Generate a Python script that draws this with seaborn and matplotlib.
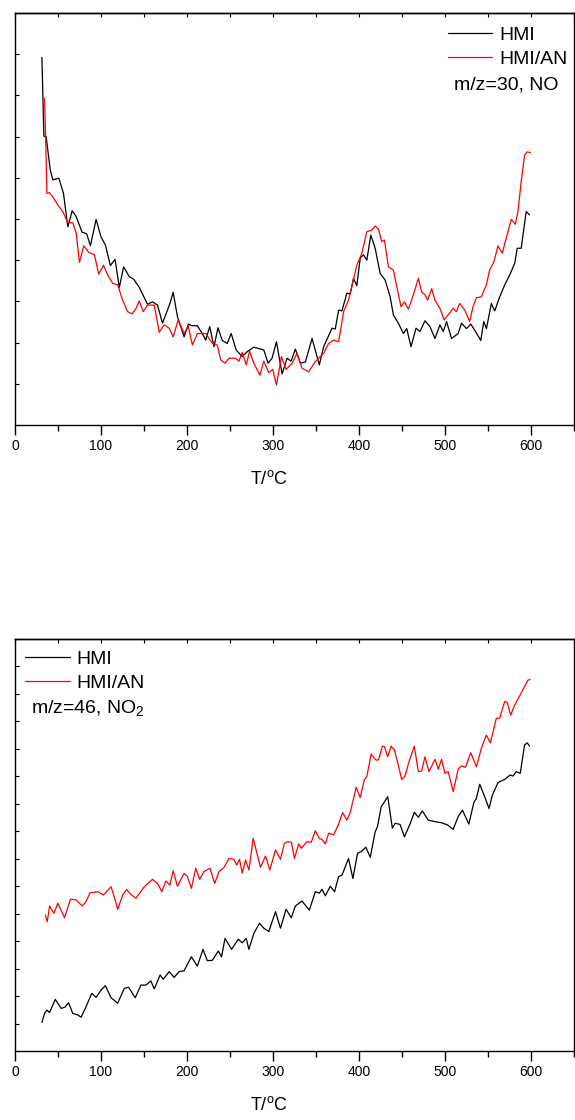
import matplotlib
matplotlib.use("Agg")
import matplotlib.pyplot as plt
import seaborn as sns
import pandas as pd
from matplotlib.ticker import MultipleLocator, NullFormatter

# ---------------- data (arbitrary intensity units) ----------------
no_hmi_T = [31.3, 33.6, 36.2, 41, 44, 51, 56.4, 61.4, 66.5, 71.1, 78, 83.4, 87.7, 94.3, 100.1, 105.1,
            110.9, 116.3, 121.3, 126.3, 132.9, 137.9, 144.5, 154.1, 159.9, 165.7, 171.5, 177.3, 180,
            183.9, 188.9, 196.6, 201.6, 205.4, 212, 217.8, 221.8, 226.4, 231.4, 236, 241, 246.8, 251.4,
            257.2, 264.2, 270, 277.7, 289.3, 294.3, 298.9, 304, 310.6, 316.4, 321, 326, 331.9, 337.7,
            345.4, 353.9, 358.9, 368.6, 372.4, 376.3, 380.2, 385.9, 389.8, 393.6, 397.5, 401.4, 405.2,
            409.1, 413.7, 418.8, 424.6, 430.4, 436.2, 440, 445.8, 451.6, 455.5, 460.5, 466.3, 470.9,
            476.7, 482.5, 488.3, 494.1, 498, 501.8, 507.6, 515.3, 519.2, 525, 530, 535.8, 541.6, 545.1,
            548.2, 553.9, 557.8, 563.6, 569.4, 575.2, 581, 584, 588.6, 594.4, 598.3]
no_hmi_I = [8.92, 7.01, 7.0, 6.19, 5.95, 5.99, 5.62, 4.81, 5.2, 5.06, 4.68, 4.64, 4.35, 4.99, 4.56, 4.37,
            3.87, 4.02, 3.34, 3.84, 3.6, 3.54, 3.34, 2.93, 2.99, 2.91, 2.47, 2.79, 2.94,
            3.22, 2.63, 2.14, 2.45, 2.41, 2.41, 2.22, 2.06, 2.39, 1.9, 2.36, 2.05, 1.98, 2.22,
            1.82, 1.66, 1.78, 1.89, 1.82, 1.5, 1.62, 2.02, 1.24, 1.62, 1.55, 1.84, 1.50, 1.53,
            2.1, 1.46, 1.9, 2.35, 2.33, 2.79, 2.77, 3.2, 3.18, 3.56, 3.38, 4.05, 4.13,
            4.0, 4.61, 4.29, 3.68, 3.52, 3.11, 2.67, 2.47, 2.22, 2.34, 1.9, 2.35, 2.27,
            2.53, 2.39, 2.1, 2.43, 2.27, 2.51, 2.1, 2.22, 2.47, 2.34, 2.45, 2.26, 2.05, 2.51,
            2.34, 2.95, 2.77, 3.11, 3.4, 3.64, 3.92, 4.29, 4.29, 5.18, 5.1]

no_an_T = [34.4, 35.6, 37.1, 40.2, 44, 49.8, 55.6, 61.4, 67.2, 71.1, 75, 79.9, 85.7, 92.4, 97.3, 102.8,
           107.8, 113.6, 119.4, 125.2, 131, 136.1, 140.7, 144.5, 149.1, 154.1, 161.9, 167.7, 173.5,
           179.3, 183.9, 189.7, 196.6, 201.6, 206.3, 212, 221.8, 229.5, 235.3, 239.2, 244.2, 248.8,
           256.5, 260.4, 264.2, 268.9, 272.8, 277.7, 284.7, 289.3, 295.1, 299.7, 304, 309.8, 315.2,
           322.2, 327.9, 333.7, 341.5, 349.2, 355, 358.9, 364.7, 370.5, 376.3, 382.1, 387.8, 391.7,
           397.5, 403.3, 409.1, 414.9, 418.8, 422.7, 426.5, 429.6, 434.2, 440, 443.9, 448.9, 452.8,
           457.4, 463.2, 469, 472.9, 476.7, 479.8, 484.5, 488.3, 494.1, 499, 503.6, 509.4, 513.2,
           517.1, 522.9, 528.7, 532.6, 536.5, 542.3, 548, 551.9, 556.9, 561.6, 566.6, 571.3, 577.1,
           581.7, 584.8, 588.6, 592.5, 595.6, 599.4]
no_an_I = [7.93, 7.0, 5.62, 5.64, 5.54, 5.34, 5.18, 4.91, 4.91, 4.66, 3.95, 4.35, 4.19, 4.13, 3.66, 3.88,
           3.64, 3.44, 3.4, 3.03, 2.75, 2.7, 2.83, 3.01, 2.75, 2.91, 2.91, 2.25, 2.43,
           2.35, 2.14, 2.55, 2.22, 2.39, 1.94, 2.22, 2.22, 1.98, 1.94, 1.58, 1.5, 1.62,
           1.62, 1.55, 1.76, 1.46, 1.79, 1.5, 1.21, 1.55, 1.27, 1.35, 0.97, 1.66, 1.35,
           1.5, 1.74, 1.38, 1.29, 1.54, 1.66, 1.74, 1.98, 2.06, 2.02, 2.75, 3.03, 3.38,
           3.88, 4.17, 4.69, 4.73, 4.83, 4.75, 4.45, 4.49, 3.84, 3.76, 3.36, 2.87, 2.99,
           2.81, 3.16, 3.56, 3.23, 3.16, 3.03, 3.31, 3.03, 2.83, 2.55, 2.67, 2.83, 2.75,
           2.95, 2.79, 2.51, 2.87, 3.09, 3.11, 3.4, 3.76, 3.96, 4.35, 4.17, 4.55, 4.99,
           4.87, 5.18, 5.91, 6.55, 6.63, 6.61]

no2_hmi_T = [31.3, 34.4, 37.1, 40.2, 46.8, 53.7, 58.3, 62.2, 67.2, 73, 76.9, 82.7, 89.3, 94.3, 100.1,
             105.1, 111.6, 119.4, 127.1, 132.1, 139.8, 146.4, 152.2, 158, 161.9, 168.8, 172.3, 179.3,
             185, 190.8, 196.6, 205.1, 212, 218.6, 223.6, 229.5, 236.4, 240.2, 244.2, 251.9, 259.6,
             264.2, 268.9, 271.9, 277.7, 284.3, 289.3, 295.1, 302.9, 308.7, 315.2, 321.3, 326, 333.7,
             342.3, 349.2, 353.9, 357, 360.9, 366.6, 371.6, 376.3, 380.2, 387.8, 392.9, 398.3, 402.6,
             408, 413.1, 418.8, 421.5, 425.8, 429.6, 433.4, 438.8, 441.9, 447.7, 452.8, 459.3, 464.3,
             469, 473.6, 480.5, 488.3, 496, 503, 509.4, 515.3, 520.3, 527.7, 533.5, 536.5, 540.4,
             546.1, 551.2, 555, 561.6, 569.4, 575.9, 579, 582.9, 587.5, 592.5, 595.6, 598.3]
no2_hmi_I = [1.04, 1.37, 1.49, 1.40, 1.88, 1.55, 1.6, 1.76, 1.37, 1.31, 1.23, 1.62, 2.1, 1.95, 2.22,
             2.38, 1.94, 1.74, 2.28, 2.32, 1.94, 2.4, 2.4, 2.55, 2.26, 2.77, 2.61, 2.89,
             2.68, 2.89, 2.92, 3.43, 3.09, 3.7, 3.29, 3.3, 3.64, 3.43, 4.1, 3.7, 4.07,
             3.94, 4.1, 3.7, 4.28, 4.65, 4.47, 4.35, 5.07, 4.47, 5.16, 4.85, 5.28, 5.46,
             5.13, 5.8, 5.75, 5.89, 5.65, 6.0, 5.8, 6.35, 6.4, 7.01, 6.28, 7.2, 7.26,
             7.42, 7.05, 7.98, 8.17, 8.89, 9.07, 9.26, 8.11, 8.29, 8.25, 7.8, 8.26, 8.69,
             8.51, 8.74, 8.41, 8.35, 8.31, 8.23, 8.07, 8.53, 8.77, 8.26, 9.04, 9.2, 9.71,
             9.26, 8.83, 9.31, 9.77, 9.89, 10.05, 10.01, 10.17, 10.11, 11.14, 11.22, 11.1]

no2_an_T = [35.2, 37.5, 40.2, 45.2, 49.8, 57.6, 64.5, 71.1, 78, 81.9, 87.3, 96.2, 102.8, 111.7, 115.5,
            119.4, 125.2, 129.8, 134.8, 140.6, 150.3, 159.9, 165.7, 170.8, 175.4, 180, 183.9, 188.9,
            196.6, 200.5, 205.1, 210.1, 214.7, 219.7, 226.7, 232.2, 237.2, 243, 248.8, 254.6, 257.7,
            261.1, 264.2, 268.1, 272, 276.9, 285.5, 291.3, 296.3, 302.9, 308.7, 313.3, 317.5, 321.4,
            324.9, 329.9, 332.9, 339.5, 344.5, 349.2, 353.9, 357, 360.9, 364.7, 370.5, 376.3, 380.9,
            385.9, 389.8, 396.7, 401.4, 406.4, 409.1, 414.1, 419.9, 422.7, 427.2, 429.6, 433.4, 437.3,
            441.2, 445, 449.6, 453.5, 458.1, 464.3, 469, 472.9, 476.7, 481.4, 488.3, 492.2, 496,
            499.9, 503.7, 509.5, 515.3, 519.2, 523.8, 530, 536.5, 542.3, 548.1, 552.7, 559.7, 563.5,
            569.4, 572.5, 576.4, 581, 588.7, 596.4, 599]
no2_an_I = [4.95, 4.71, 5.28, 5.01, 5.38, 4.85, 5.53, 5.5, 5.28, 5.4, 5.76, 5.8, 5.68, 5.98, 5.6,
            5.16, 5.68, 5.88, 5.7, 5.56, 5.98, 6.25, 6.1, 5.8, 6.19, 6.04, 6.56, 6.0,
            6.47, 6.35, 5.92, 6.65, 6.25, 6.53, 6.65, 6.1, 6.53, 6.68, 7.01, 6.98, 6.77,
            6.98, 6.47, 6.95, 6.59, 7.74, 6.69, 7.1, 6.59, 7.32, 6.98, 7.56, 7.62, 7.6,
            7.01, 7.54, 7.38, 7.62, 7.6, 8.02, 7.74, 7.7, 7.54, 7.93, 7.87, 8.26, 8.68,
            8.41, 8.68, 9.6, 9.23, 9.89, 9.99, 10.81, 10.59, 10.6, 11.1, 11.08, 10.71, 11.1,
            10.96, 10.5, 9.89, 10.01, 10.53, 11.1, 10.17, 10.2, 10.71, 10.17, 10.62, 10.26, 10.62,
            10.11, 10.17, 9.44, 10.26, 10.38, 10.33, 10.86, 10.35, 11.02, 11.5, 11.22, 12.11, 12.12,
            12.72, 12.68, 12.23, 12.59, 13.04, 13.5, 13.53]

series_labels = ["HMI", "HMI/AN"]
panel_notes = ["m/z=30, NO", "m/z=46, NO$_2$"]
x_label = "T/$^{\\mathrm{o}}$C"

# ---------------- style ----------------
sns.set_style("ticks")
plt.rcParams["font.family"] = ["Liberation Sans", "DejaVu Sans"]
plt.rcParams["mathtext.fontset"] = "custom"
plt.rcParams["mathtext.rm"] = "Liberation Sans"
plt.rcParams["mathtext.it"] = "Liberation Sans"
plt.rcParams["text.color"] = "black"
plt.rcParams["axes.labelcolor"] = "black"
plt.rcParams["xtick.color"] = "black"
plt.rcParams["ytick.color"] = "black"
plt.rcParams["axes.edgecolor"] = "black"

fig = plt.figure(figsize=(5.75, 11.2), dpi=100)
W, H = 575, 1120
ax_top = fig.add_axes([15 / W, 1 - 425 / H, 559 / W, 412 / H])
ax_bot = fig.add_axes([15 / W, 1 - 1051 / H, 559 / W, 412 / H])

panels = [
    (ax_top, no_hmi_T, no_hmi_I, no_an_T, no_an_I, (0, 10), 1),
    (ax_bot, no2_hmi_T, no2_hmi_I, no2_an_T, no2_an_I, (0, 15), 1),
]

for ax, th, ih, ta, ia, ylim, ystep in panels:
    d1 = pd.DataFrame({"T": th, "I": ih})
    d2 = pd.DataFrame({"T": ta, "I": ia})
    sns.lineplot(data=d1, x="T", y="I", color="black", lw=0.9, ax=ax,
                 estimator=None, sort=False, label=series_labels[0])
    sns.lineplot(data=d2, x="T", y="I", color="red", lw=0.9, ax=ax,
                 estimator=None, sort=False, label=series_labels[1])
    ax.set_xlim(0, 650)
    ax.set_ylim(*ylim)
    ax.xaxis.set_major_locator(MultipleLocator(100))
    ax.xaxis.set_minor_locator(MultipleLocator(50))
    ax.yaxis.set_major_locator(MultipleLocator(ystep))
    ax.yaxis.set_major_formatter(NullFormatter())
    ax.tick_params(axis="x", which="major", direction="out", length=7, width=1,
                   labelsize=10, pad=3, top=False, colors="black")
    ax.tick_params(axis="x", which="minor", direction="out", length=4, width=1, top=False)
    ax.tick_params(axis="y", which="major", direction="in", length=3, width=0.8)
    sec = ax.secondary_xaxis("top")
    sec.xaxis.set_major_locator(MultipleLocator(50))
    sec.tick_params(direction="in", length=3, width=0.8, labeltop=False)
    sec.spines["top"].set_linewidth(1)
    for s in ax.spines.values():
        s.set_linewidth(1)
        s.set_color("black")
    ax.set_ylabel("")
    ax.set_xlabel(x_label, fontsize=13, labelpad=12, x=0.454, color="black")

# legends and notes
leg1 = ax_top.legend(loc="upper left", bbox_to_anchor=((448 - 15) / 559, 0.968), frameon=False,
                     fontsize=14, handlelength=2.27, handletextpad=0.36, labelspacing=0.34,
                     borderpad=0, borderaxespad=0)
ax_top.text((454 - 15) / 559, (425 - 85) / 412, panel_notes[0], transform=ax_top.transAxes,
            fontsize=14, va="center", ha="left", color="black")

leg2 = ax_bot.legend(loc="upper left", bbox_to_anchor=((25 - 15) / 559, 0.973), frameon=False,
                     fontsize=14, handlelength=2.3, handletextpad=0.33, labelspacing=0.34,
                     borderpad=0, borderaxespad=0)
ax_bot.text((31 - 15) / 559, (1051 - 708) / 412, panel_notes[1], transform=ax_bot.transAxes,
            fontsize=14, va="center", ha="left", color="black")
for leg in (leg1, leg2):
    for t in leg.get_texts():
        t.set_color("black")

fig.savefig("out.png", dpi=100)
